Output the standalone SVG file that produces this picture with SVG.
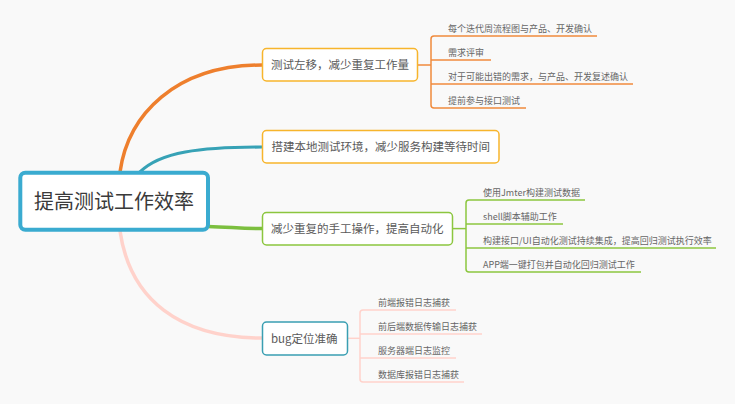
<svg xmlns="http://www.w3.org/2000/svg" width="735" height="404" viewBox="0 0 735 404">
<style>
  text { font-family: "Noto Sans CJK SC", "Microsoft YaHei", sans-serif; fill: #5a5a5a; }
  .main { font-size: 20px; fill: #3a3a3a; text-anchor: middle; }
  .topic { font-size: 11.5px; }
  .sub { font-size: 9px; fill: #666; }
  .box { fill: #ffffff; stroke-width: 1.5; }
  .br { fill: none; stroke-width: 1.5; }
  .conn { fill: none; stroke-linecap: round; }
</style>
<rect x="0" y="0" width="735" height="404" fill="#f9f9f9"/>
<g id="connectors">
  <path class="conn" d="M120,172 C128,115 175,65 262,65" stroke="#ee7f2d" stroke-width="3.5"/>
  <path class="conn" d="M140,172 C160,152 200,147 262,147" stroke="#37a2b6" stroke-width="3.2"/>
  <path class="conn" d="M208,226.5 C230,227 240,228.6 262,228.6" stroke="#7cbf3f" stroke-width="3.5"/>
  <path class="conn" d="M120,231 C130,300 180,338 262,338" stroke="#ffd2cb" stroke-width="3.5"/>
  <g stroke="#f08a3c" class="br">
    <path class="br" d="M418,65 H431"/>
    <path class="br" d="M597,36 H434 Q431,36 431,39 V105 Q431,108 434,108 H526"/>
    <path class="br" d="M431,60 H491"/>
    <path class="br" d="M431,84 H633"/>
  </g>
  <g stroke="#8cc63f" class="br">
    <path class="br" d="M453,228.6 H466"/>
    <path class="br" d="M585,200 H469 Q466,200 466,203 V269 Q466,272 469,272 H641"/>
    <path class="br" d="M466,224 H563"/>
    <path class="br" d="M466,248 H716"/>
  </g>
  <g stroke="#ffd2cb" class="br">
    <path class="br" d="M348,338.3 H360"/>
    <path class="br" d="M456,310 H363 Q360,310 360,313 V379 Q360,382 363,382 H464"/>
    <path class="br" d="M360,334 H482"/>
    <path class="br" d="M360,358 H456"/>
  </g>
</g>
<g id="central">
  <rect x="20.3" y="172.7" width="187.7" height="57" rx="5" fill="#ffffff" stroke="#3aabd0" stroke-width="4"/>
  <text class="main" x="114" y="209">提高测试工作效率</text>
</g>
<g id="node1">
  <rect class="box" x="262.5" y="48.5" width="155" height="32.5" rx="4" stroke="#f7b52c"/>
  <text class="topic" x="271" y="69">测试左移，减少重复工作量</text>
</g>
<g id="node1-items">
  <text class="sub" x="448" y="31.7">每个迭代周流程图与产品、开发确认</text>
  <text class="sub" x="448" y="55.7">需求评审</text>
  <text class="sub" x="448" y="79.7">对于可能出错的需求，与产品、开发复述确认</text>
  <text class="sub" x="448" y="103.7">提前参与接口测试</text>
</g>
<g id="node2">
  <rect class="box" x="262.5" y="130.5" width="236.5" height="32.5" rx="4" stroke="#f7b52c"/>
  <text class="topic" x="271.5" y="151">搭建本地测试环境，减少服务构建等待时间</text>
</g>
<g id="node3">
  <rect class="box" x="262.5" y="212.5" width="190" height="32.5" rx="4" stroke="#8cc63f"/>
  <text class="topic" x="271" y="233">减少重复的手工操作，提高自动化</text>
</g>
<g id="node3-items">
  <text class="sub" x="483" y="195.5">使用Jmter构建测试数据</text>
  <text class="sub" x="483" y="219.5">shell脚本辅助工作</text>
  <text class="sub" x="483" y="243.5">构建接口/UI自动化测试持续集成，提高回归测试执行效率</text>
  <text class="sub" x="483" y="267.5">APP端一键打包并自动化回归测试工作</text>
</g>
<g id="node4">
  <rect class="box" x="262.5" y="322" width="85" height="33" rx="4" stroke="#3a9fb2"/>
  <text class="topic" x="271" y="342.5">bug定位准确</text>
</g>
<g id="node4-items">
  <text class="sub" x="378" y="305.5">前端报错日志捕获</text>
  <text class="sub" x="378" y="329.5">前后端数据传输日志捕获</text>
  <text class="sub" x="378" y="353.5">服务器端日志监控</text>
  <text class="sub" x="378" y="377.5">数据库报错日志捕获</text>
</g>
</svg>
